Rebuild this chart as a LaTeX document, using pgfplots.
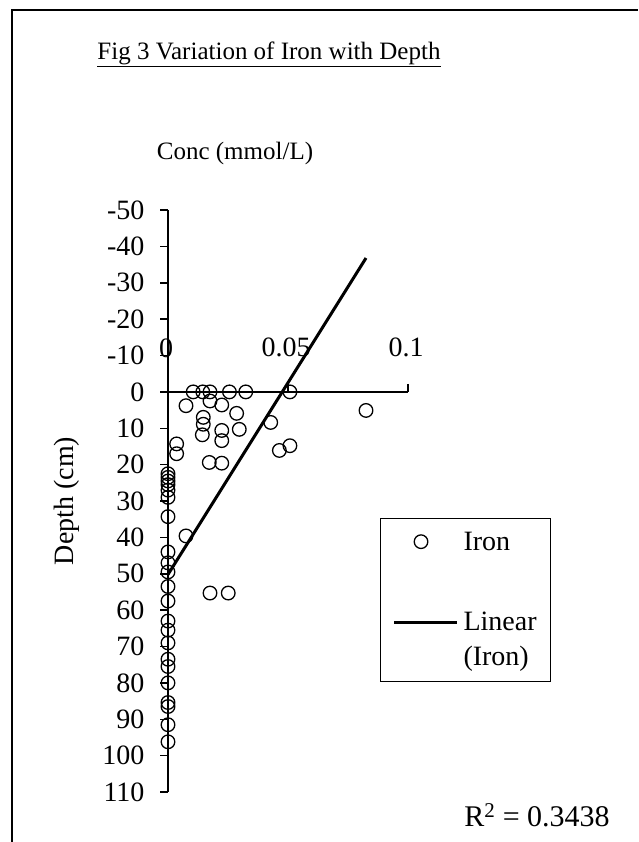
\documentclass[border=0pt]{standalone}
\usepackage{fontspec}
\setmainfont{Liberation Serif}
\usepackage{pgfplots}
\pgfplotsset{compat=1.18}

% Legend pictures: a single circle, and a plain line level with the first text line
\pgfplotsset{
  iron key/.style={legend image code/.code={\path[draw=none] (0pt,0pt) -- (62pt,0pt);
    \draw[##1] plot coordinates {(27pt,9pt)};}},
  trend key/.style={legend image code/.code={\draw[##1] (0pt,43pt) -- (63pt,43pt);}},
}

% Iron concentration (mmol/L) against depth (cm)
\pgfplotstableread{
conc    depth
0.0105  0
0.0145  0
0.0175  0
0.0256  0
0.0324  0
0.0508  0
0.0075  3.8
0.0175  2.5
0.0224  3.6
0.0286  5.9
0.0147  7.0
0.0147  8.9
0.0143  11.8
0.0224  10.6
0.0297  10.3
0.0224  13.4
0.0428  8.4
0.0825  5.1
0.0508  14.8
0.0464  16.1
0.0036  14.3
0.0036  17.0
0.0172  19.4
0.0224  19.6
0.0075  39.6
0.0175  55.3
0.0251  55.3
0       22.5
0       23.5
0       24.5
0       25.5
0       27.0
0       29.0
0       34.3
0       44.0
0       47.0
0       49.5
0       53.5
0       57.5
0       63.0
0       65.5
0       69.0
0       73.5
0       75.5
0       80.0
0       85.4
0       86.5
0       91.5
0       96.2
}\irondata

\begin{document}
\begin{tikzpicture}[font=\fontsize{25}{30}\selectfont]
\path[use as bounding box] (0pt,0pt) rectangle (638pt,-842pt);
\begin{scope}[x=1pt,y=-1pt]
  \draw[line width=2pt] (12,842) -- (12,10) -- (638,10);
  \node at (269,54) {\underline{Fig 3 Variation of Iron with Depth}};
  \node at (235,153) {Conc (mmol/L)};
  \node[rotate=90, font=\fontsize{28}{32}\selectfont] at (67,501) {Depth (cm)};
  \node[font=\fontsize{30}{36}\selectfont] at (537,815) {R\textsuperscript{2} = 0.3438};
\end{scope}
\begin{axis}[
  at={(168pt,-792pt)}, anchor=south west,
  scale only axis, width=240pt, height=582pt,
  xmin=0, xmax=0.1, ymin=-50, ymax=110, y dir=reverse,
  axis x line=middle, axis y line=left,
  axis line style={-, line width=1.8pt},
  hide obscured x ticks=false, hide obscured y ticks=false,
  clip=false,
  xtick={0,0.05,0.1}, xticklabels={0,0.05,0.1},
  ytick={-50,-40,-30,-20,-10,0,10,20,30,40,50,60,70,80,90,100,110},
  yticklabels={-50,-40,-30,-20,-10,0,10,20,30,40,50,60,70,80,90,100,110},
  tick align=outside, major tick length=8pt,
  tick style={black, line width=1.5pt},
  tick label style={font=\fontsize{28}{32}\selectfont},
  xticklabel style={anchor=center, yshift=52pt, xshift=-2pt},
  yticklabel style={anchor=east, xshift=-12pt},
  legend style={at={(axis cs:0.0883,34.6)}, anchor=north west,
    draw=black, line width=1.2pt, fill=white,
    inner xsep=12pt, inner ysep=12pt, row sep=50pt, column sep=3pt,
    font=\fontsize{28}{35}\selectfont, cells={anchor=base west}},
]
\addplot[only marks, mark=o, mark size=6.8pt, line width=1.3pt, black, iron key]
  table[x=conc, y=depth] {\irondata};
\addlegendentry{Iron}
\addplot[no marks, line width=3pt, black, trend key]
  coordinates {(0,50.2) (0.0825,-36.8)};
\addlegendentry{\begin{tabular}[b]{@{}l@{}}Linear\\(Iron)\end{tabular}}
\end{axis}
\end{tikzpicture}
\end{document}
